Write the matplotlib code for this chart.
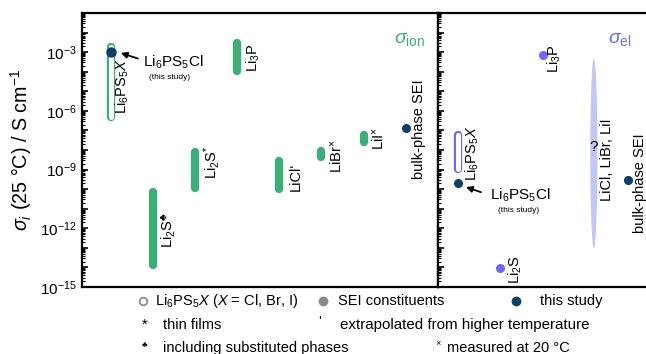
import numpy as np
import matplotlib
matplotlib.use('Agg')
import matplotlib.pyplot as plt
import matplotlib.ticker as mticker

plt.rcParams['font.family'] = ['Liberation Sans', 'DejaVu Sans']
plt.rcParams['mathtext.fontset'] = 'custom'
plt.rcParams['mathtext.rm'] = 'Liberation Sans'
plt.rcParams['mathtext.it'] = 'Liberation Sans:italic'
plt.rcParams['mathtext.bf'] = 'Liberation Sans:bold'

# ---------------------------------------------------------------------
#   data (log10 of conductivity, S/cm)
# ---------------------------------------------------------------------
# ionic panel: bars (min, max)
ion_names = ['Li$_6$PS$_5$$X$', 'Li$_2$S$^{\\clubsuit}$', 'Li$_2$S$^{*}$', 'Li$_3$P',
             "LiCl'", 'LiBr$^{\\times}$', 'LiI$^{\\times}$']
ion_pos = [1, 2, 3, 4, 5, 6, 7]
ion_lo = [-6.3, -13.9, -9.95, -3.98, -10.0, -8.37, -7.6]
ion_hi = [-2.75, -10.15, -8.1, -2.55, -8.57, -8.06, -7.24]
ion_label_y = [-4.74, -12.1, -8.62, -3.27, -9.39, -8.32, -7.4]
ion_this_study = -3.0        # Li6PS5Cl, this study
ion_sei = -6.9               # bulk-phase SEI

# electronic panel
el_lps_lo, el_lps_hi = -8.98, -7.24   # Li6PS5X range
el_this_study = -9.7                   # Li6PS5Cl
el_li3p = -3.16
el_li2s = -14.03
el_halide_lo, el_halide_hi = -13.0, -3.3   # LiCl, LiBr, LiI (unknown)
el_sei = -9.55

green = '#3dae78'
navy = '#0e3d66'
blue = '#6b6cf2'
lav = '#c3c6f6'
fs = 10.5

fig = plt.figure(figsize=(6.46, 3.54), dpi=100)
ax1 = fig.add_axes([82 / 646, 1 - 287 / 354, 356 / 646, 274 / 354])
ax2 = fig.add_axes([438 / 646, 1 - 287 / 354, 1 - 438 / 646 + 0.01, 274 / 354])

for ax in (ax1, ax2):
    ax.set_yscale('log')
    ax.set_ylim(1e-15, 1e-1)
    for s in ax.spines.values():
        s.set_linewidth(1.6)
    ax.set_xticks([])
    ax.yaxis.set_major_locator(mticker.LogLocator(base=10, numticks=30))
    ax.yaxis.set_minor_locator(mticker.LogLocator(base=10, subs=np.arange(2, 10), numticks=30))
    ax.tick_params(axis='y', which='major', direction='in', length=4.5, width=1.2)
    ax.tick_params(axis='y', which='minor', direction='in', length=2.2, width=0.8)

ax1.set_xlim(0.311, 8.77)
ax2.set_xlim(0.52, 5.6)
ax2.spines['right'].set_visible(False)
ax2.tick_params(axis='y', labelleft=False)
ax1.yaxis.set_major_formatter(mticker.FuncFormatter(
    lambda v, p: '10$^{%d}$' % round(np.log10(v)) if round(np.log10(v)) % 3 == 0 else ''))
ax1.tick_params(axis='y', labelsize=11, pad=4)
ax1.set_ylabel('$\\sigma_i$ (25 °C) / S cm$^{-1}$', fontsize=14.2)
ax1.yaxis.set_label_coords(-0.135, 0.5)

# --- ionic conductivity ---
for i, (x, lo, hi) in enumerate(zip(ion_pos, ion_lo, ion_hi)):
    ax1.plot([x, x], [10 ** lo, 10 ** hi], color=green, lw=6, solid_capstyle='round')
    if i == 0:
        ax1.plot([x, x], [10 ** lo, 10 ** hi], color='white', lw=3.6, solid_capstyle='round')
    dx = 0.27 if i == 0 else 0.38
    ax1.text(x + dx, 10 ** ion_label_y[i], ion_names[i], rotation=90, ha='center', va='center',
             fontsize=fs)

ax1.plot(1, 10 ** ion_this_study, 'o', color=navy, ms=6.5, zorder=5)
ax1.annotate('', xy=(1.17, 10 ** -3.0), xytext=(1.7, 10 ** -3.37),
             arrowprops=dict(arrowstyle='-|>', color='black', lw=1.3, mutation_scale=9))
ax1.text(1.76, 10 ** -3.52, 'Li$_6$PS$_5$Cl', ha='left', va='center', fontsize=11)
ax1.text(2.4, 10 ** -4.29, '(this study)', ha='center', va='center', fontsize=6)

ax1.plot(8, 10 ** ion_sei, 'o', color=navy, ms=5.5, zorder=5)
ax1.text(8.33, 10 ** -6.94, 'bulk-phase SEI', rotation=90, ha='center', va='center', fontsize=fs)
ax1.text(0.963, 0.905, '$\\sigma_{\\mathrm{ion}}$', transform=ax1.transAxes, ha='right', va='center',
         color=green, fontsize=14)

# --- electronic conductivity ---
ax2.plot([1, 1], [10 ** el_lps_lo, 10 ** el_lps_hi], color=blue, lw=6, solid_capstyle='round')
ax2.plot([1, 1], [10 ** el_lps_lo, 10 ** el_lps_hi], color='white', lw=3.6, solid_capstyle='round')
ax2.text(1.33, 10 ** -8.16, 'Li$_6$PS$_5$$X$', rotation=90, ha='center', va='center', fontsize=fs)
ax2.plot(1, 10 ** el_this_study, 'o', color=navy, ms=5.5, zorder=5)
ax2.annotate('', xy=(1.12, 10 ** -9.85), xytext=(1.6, 10 ** -10.2),
             arrowprops=dict(arrowstyle='-|>', color='black', lw=1.3, mutation_scale=9))
ax2.text(1.75, 10 ** -10.3, 'Li$_6$PS$_5$Cl', ha='left', va='center', fontsize=11)
ax2.text(2.43, 10 ** -11.1, '(this study)', ha='center', va='center', fontsize=6)

ax2.plot(2, 10 ** el_li2s, 'o', color=blue, ms=5.5)
ax2.text(2.36, 10 ** -14.13, 'Li$_2$S', rotation=90, ha='center', va='center', fontsize=fs)
ax2.plot(3, 10 ** el_li3p, 'o', color=blue, ms=5.5)
ax2.text(3.27, 10 ** -3.32, 'Li$_3$P', rotation=90, ha='center', va='center', fontsize=fs)

# spindle for the halides (unknown range)
c = 0.5 * (el_halide_lo + el_halide_hi)
h = 0.5 * (el_halide_hi - el_halide_lo)
yy = np.linspace(el_halide_lo, el_halide_hi, 200)
ww = 0.085 * np.sqrt(np.clip(1 - ((yy - c) / h) ** 2, 0, None))
ax2.fill_betweenx(10 ** yy, 4.2 - ww, 4.2 + ww, color=lav, lw=0)
ax2.text(4.2, 10 ** -7.86, '?', ha='center', va='center', fontsize=11)
ax2.text(4.53, 10 ** -8.47, 'LiCl, LiBr, LiI', rotation=90, ha='center', va='center', fontsize=fs)

ax2.plot(5.03, 10 ** el_sei, 'o', color=navy, ms=5.5, zorder=5)
ax2.text(5.3, 10 ** -9.7, 'bulk-phase SEI', rotation=90, ha='center', va='center', fontsize=fs)
ax2.text(0.904, 0.905, '$\\sigma_{\\mathrm{el}}$', transform=ax2.transAxes, ha='right', va='center',
         color=blue, fontsize=14)


# --- legend (figure coords in pixels) ---
def fx(px):
    return px / 646


def fy(py):
    return 1 - py / 354


lfs = 10.5
fig.lines.append(plt.Line2D([fx(143)], [fy(301)], marker='o', mfc='white', mec='#8a8a8a', mew=1.3, ms=5.5,
                            transform=fig.transFigure))
fig.text(fx(155), fy(301), 'Li$_6$PS$_5$$X$ ($X$ = Cl, Br, I)', ha='left', va='center', fontsize=lfs)
fig.lines.append(plt.Line2D([fx(323)], [fy(301)], marker='o', color='#8a8a8a', ms=6,
                            transform=fig.transFigure))
fig.text(fx(338), fy(301), 'SEI constituents', ha='left', va='center', fontsize=lfs)
fig.lines.append(plt.Line2D([fx(516)], [fy(301)], marker='o', color=navy, ms=6,
                            transform=fig.transFigure))
fig.text(fx(540), fy(301), 'this study', ha='left', va='center', fontsize=lfs)

fig.text(fx(145), fy(325), '*', ha='center', va='center', fontsize=lfs)
fig.text(fx(163), fy(325), 'thin films', ha='left', va='center', fontsize=lfs)
fig.text(fx(320), fy(322), "'", ha='center', va='center', fontsize=lfs)
fig.text(fx(340), fy(325), 'extrapolated from higher temperature', ha='left', va='center', fontsize=10.9)

fig.text(fx(145), fy(345), '\u2663', ha='center', va='center', fontsize=6)
fig.text(fx(163), fy(348), 'including substituted phases', ha='left', va='center', fontsize=lfs)
fig.text(fx(438), fy(344), '\u00d7', ha='center', va='center', fontsize=6.5)
fig.text(fx(447), fy(348), 'measured at 20 °C', ha='left', va='center', fontsize=lfs)

fig.savefig('out.png', dpi=100)
